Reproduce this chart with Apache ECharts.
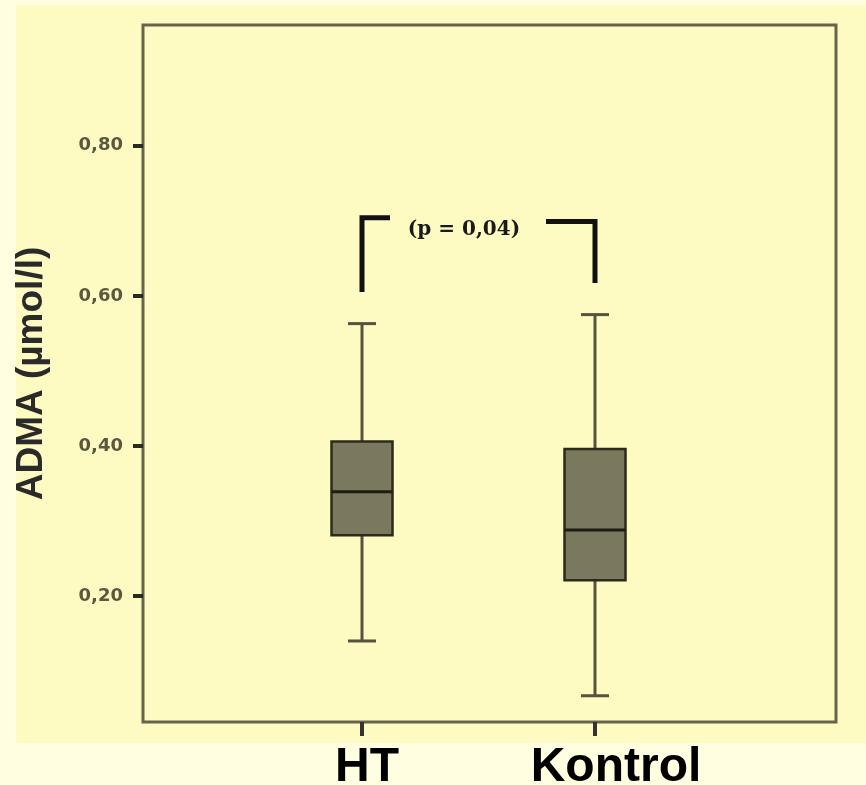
<!DOCTYPE html>
<html>
<head>
<meta charset="utf-8">
<script src="https://cdn.jsdelivr.net/npm/echarts@6/dist/echarts.min.js"></script>
<style>
  html, body { margin: 0; padding: 0; background: #fffee1; }
  #wrap { position: relative; width: 866px; height: 785px; background: #fffee1; overflow: hidden; }
  #panel { position: absolute; left: 16px; top: 5px; width: 850px; height: 738px; background: #fdfbc1; }
  #chart { position: absolute; left: 0; top: 0; width: 866px; height: 785px; }
</style>
</head>
<body>
<div id="wrap">
  <div id="panel"></div>
  <div id="chart"></div>
</div>
<script>
// ---- data ----
const categories = ['HT', 'Kontrol'];
// [min, Q1, median, Q3, max]
const boxHT      = [0.140, 0.281, 0.339, 0.406, 0.563];
const boxKontrol = [0.067, 0.221, 0.288, 0.396, 0.575];
const yTicks = [0.20, 0.40, 0.60, 0.80];
const yMin = 0.032, yMax = 0.961;
// significance bracket: [left top, left bottom, right top, right bottom]
const bracketValues = [0.704, 0.605, 0.699, 0.617];
const bracketLabel = '(p = 0,04)';
const yTitle = 'ADMA (µmol/l)';

const boxData = [boxHT, boxKontrol].map((b, i) => [i].concat(b));
// label shifts (style only): labels sit a little right of their ticks in the reference
const labelPadLeft = [10, 42];
const axisCats = categories.map((c, i) => ({ value: c, textStyle: { padding: [0, 0, 0, labelPadLeft[i]] } }));

const chart = echarts.init(document.getElementById('chart'), null, { renderer: 'canvas' });

const whiskerColor = '#55523d';
const boxFill = '#7b795d';
const boxBorder = '#2c2a1b';

chart.setOption({
  backgroundColor: 'transparent',
  animation: false,
  grid: [
    { left: 245.5, right: 154.5, top: 25, bottom: 63, show: false, containLabel: false, outerBoundsMode: 'none' },
    { left: 143, right: 30, top: 25, bottom: 63, show: true, borderColor: '#66644c', borderWidth: 3,
      backgroundColor: 'transparent', containLabel: false, outerBoundsMode: 'none' }
  ],
  xAxis: [
    {
      type: 'category', gridIndex: 0, data: axisCats,
      axisLine: { show: false },
      axisTick: { show: true, alignWithLabel: true, length: 14, lineStyle: { color: '#333', width: 4 } },
      axisLabel: { fontFamily: 'Liberation Sans', fontWeight: 'bold', fontSize: 48, color: '#000', margin: 22 },
      splitLine: { show: false }
    },
    { type: 'value', gridIndex: 1, show: false, min: 0, max: 1 }
  ],
  yAxis: [
    {
      type: 'value', gridIndex: 0, min: yMin, max: yMax, offset: 102.5,
      axisLine: { show: false },
      axisTick: { show: true, customValues: yTicks, length: 10, lineStyle: { color: '#2a2a22', width: 4 } },
      axisLabel: {
        customValues: yTicks, margin: 20,
        fontFamily: 'DejaVu Sans', fontWeight: 'bold', fontSize: 18, color: '#5a5940',
        formatter: v => v.toFixed(2).replace('.', ',')
      },
      splitLine: { show: false },
      name: yTitle, nameLocation: 'middle', nameRotate: 90, nameGap: 93,
      nameTextStyle: { fontFamily: 'Liberation Sans', fontWeight: 'bold', fontSize: 37, color: '#2a2a2a' }
    },
    { type: 'value', gridIndex: 1, show: false, min: 0, max: 1 }
  ],
  series: [
    {
      type: 'custom', xAxisIndex: 0, yAxisIndex: 0,
      data: boxData,
      encode: { x: 0, y: [1, 2, 3, 4, 5] },
      renderItem: function (params, api) {
        const c = api.value(0);
        const pMin = api.coord([c, api.value(1)]);
        const pQ1 = api.coord([c, api.value(2)]);
        const pMed = api.coord([c, api.value(3)]);
        const pQ3 = api.coord([c, api.value(4)]);
        const pMax = api.coord([c, api.value(5)]);
        const x = pMed[0];
        const hw = 30.5, cw = 14;
        const ls = { stroke: whiskerColor, lineWidth: 3 };
        return {
          type: 'group',
          children: [
            { type: 'line', shape: { x1: x, y1: pMax[1], x2: x, y2: pQ3[1] }, style: ls },
            { type: 'line', shape: { x1: x, y1: pQ1[1], x2: x, y2: pMin[1] }, style: ls },
            { type: 'line', shape: { x1: x - cw, y1: pMax[1], x2: x + cw, y2: pMax[1] }, style: ls },
            { type: 'line', shape: { x1: x - cw, y1: pMin[1], x2: x + cw, y2: pMin[1] }, style: ls },
            { type: 'rect', shape: { x: x - hw, y: pQ3[1], width: 2 * hw, height: pQ1[1] - pQ3[1] },
              style: { fill: boxFill, stroke: boxBorder, lineWidth: 2.5 } },
            { type: 'line', shape: { x1: x - hw, y1: pMed[1], x2: x + hw, y2: pMed[1] },
              style: { stroke: '#1e1d12', lineWidth: 3 } }
          ]
        };
      }
    },
    {
      type: 'custom', xAxisIndex: 0, yAxisIndex: 0,
      data: [bracketValues],
      encode: { y: [0, 1, 2, 3] },
      renderItem: function (params, api) {
        const lt = api.coord([0, api.value(0)]);
        const lb = api.coord([0, api.value(1)]);
        const rt = api.coord([1, api.value(2)]);
        const rb = api.coord([1, api.value(3)]);
        const armL = 28, armR = 49;
        const st = { stroke: '#111', lineWidth: 5, fill: null, lineJoin: 'miter', lineCap: 'butt' };
        const midX = ((lt[0] + armL) + (rt[0] - armR)) / 2 - 4;
        return {
          type: 'group',
          children: [
            { type: 'polyline', shape: { points: [[lt[0] + armL, lt[1]], [lt[0], lt[1]], [lb[0], lb[1]]] }, style: st },
            { type: 'polyline', shape: { points: [[rt[0] - armR, rt[1]], [rt[0], rt[1]], [rb[0], rb[1]]] }, style: st },
            { type: 'text', style: { x: midX, y: lt[1] + 12, text: bracketLabel, fill: '#1a1a1a',
              font: 'bold 20px "DejaVu Serif"', align: 'center', verticalAlign: 'middle' } }
          ]
        };
      }
    }
  ]
});
</script>
</body>
</html>
